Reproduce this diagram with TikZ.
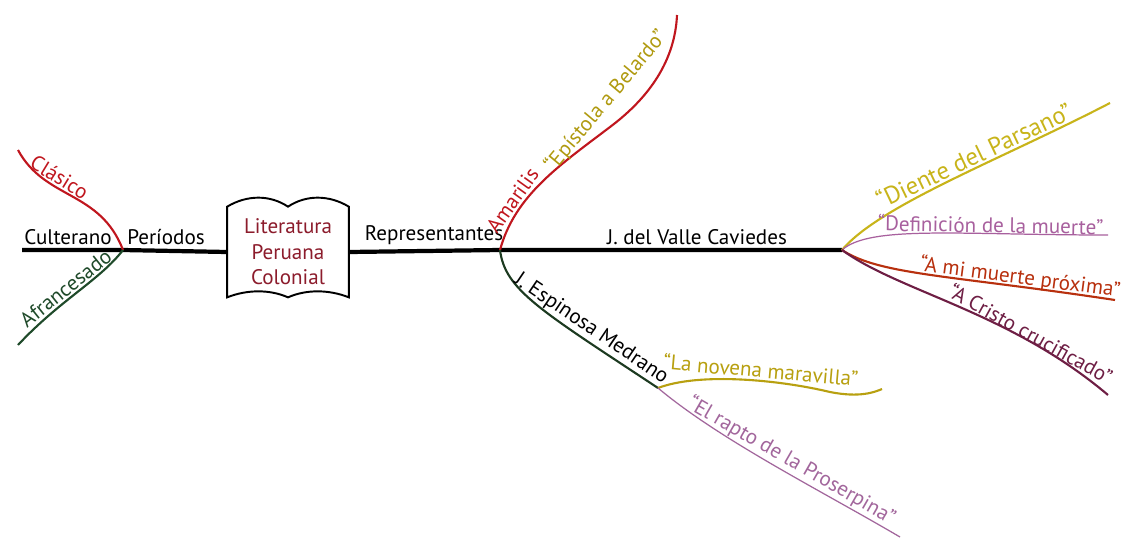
\documentclass[tikz,border=0pt]{standalone}
\usepackage{fontspec}
\setmainfont{PT Sans}
\usetikzlibrary{positioning}

\definecolor{clasred}{HTML}{C0161E}
\definecolor{afgreen}{HTML}{1F4A2A}
\definecolor{boxred}{HTML}{8C1C2C}
\definecolor{epigold}{HTML}{B09A10}
\definecolor{espgreen}{HTML}{1C3A20}
\definecolor{novgold}{HTML}{B8A010}
\definecolor{rappurple}{HTML}{A2669C}
\definecolor{diegold}{HTML}{C8B41A}
\definecolor{defpurple}{HTML}{A8609E}
\definecolor{proxred}{HTML}{B8300E}
\definecolor{crismaroon}{HTML}{6E1E44}

\begin{document}
\begin{tikzpicture}[x=0.02cm,y=-0.02cm,
  mainline/.style={line width=2.4pt,black},
  branch/.style={line width=1.2pt},
  twig/.style={line width=0.7pt},
  lbl/.style={font=\fontsize{12}{14}\selectfont,inner sep=1pt},
  biglbl/.style={font=\fontsize{14}{16}\selectfont,inner sep=1pt}]
\useasboundingbox[fill=white] (0,0) rectangle (1129,552);

\coordinate (lstart) at (22,250);
\coordinate (jp) at (123,250);
\coordinate (jr) at (500,250);
\coordinate (jv) at (842,250);
\coordinate (je) at (658,388);
\coordinate (clend) at (18,150);
\coordinate (afend) at (18,345);
\coordinate (amend) at (677,15);
\coordinate (novend) at (882,389);
\coordinate (rapend) at (900,537);
\coordinate (dieend) at (1110,103);
\coordinate (defend) at (1108,235);
\coordinate (proxend) at (1115,300);
\coordinate (crisend) at (1108,395);

\node[align=center,text=boxred,font=\fontsize{12}{14.5}\selectfont,
  minimum width=2.42cm,minimum height=1.8cm,inner sep=0pt] (lit) at (288,252)
  {Literatura\\Peruana\\Colonial};
\draw[line width=1.1pt] (lit.north west) .. controls +(20,-12) and +(-18,-12) .. (lit.north)
  .. controls +(18,-12) and +(-20,-12) .. (lit.north east) -- (lit.south east)
  .. controls +(-20,-8) and +(18,-8) .. (lit.south)
  .. controls +(-18,-8) and +(20,-8) .. (lit.south west) -- cycle;

\draw[mainline] (lstart) -- (jp) -- (lit.west);
\draw[mainline] (lit.east) -- (jr) -- (jv);

\node[lbl,anchor=south] (culterano) at (68,247) {Culterano};
\node[lbl,anchor=south] (periodos) at (166,247) {Períodos};
\node[lbl,anchor=south] (representantes) at (434,247) {Representantes};
\node[lbl,anchor=south] (caviedes) at (697,247) {J. del Valle Caviedes};

\draw[branch,clasred] (clend) .. controls (45,200) and (100,190) .. (jp)
  node[lbl,sloped,above,pos=0.35] (clasico) {Clásico};
\draw[branch,afgreen] (afend) .. controls (60,300) and (100,280) .. (jp)
  node[lbl,sloped,above,pos=0.45] (afrancesado) {Afrancesado};

\draw[branch,clasred] (jr) .. controls (515,195) and (560,165) .. (610,127)
  node[lbl,sloped,above,pos=0.3] (amarilis) {Amarilis}
  .. controls (650,97) and (675,60) .. (amend);
\node[lbl,text=epigold,rotate=50] (epistola) at (606,101) {“Epístola a Belardo”};

\draw[branch,espgreen] (jr) .. controls (505,290) and (540,310) .. (je)
  node[lbl,sloped,above,pos=0.75,text=black] (espinosa) {J. Espinosa Medrano};
\draw[branch,novgold] (je) .. controls (700,372) and (780,380) .. (830,392)
  node[lbl,sloped,above,pos=0.6] (novena) {“La novena maravilla”}
  .. controls (860,398) and (875,392) .. (novend);
\draw[twig,rappurple] (je) .. controls (720,440) and (820,490) .. (rapend)
  node[lbl,sloped,above,pos=0.55] (rapto) {“El rapto de la Proserpina”};

\draw[branch,diegold] (jv) .. controls (880,205) and (1000,160) .. (dieend)
  node[biglbl,sloped,above,pos=0.6] (diente) {“Diente del Parsano”};
\draw[twig,defpurple] (jv) .. controls (870,225) and (960,235) .. (defend)
  node[lbl,sloped,above=-1pt,pos=0.7] (definicion) {“Definición de la muerte”};
\draw[branch,proxred] (jv) .. controls (880,275) and (950,275) .. (proxend)
  node[lbl,sloped,above=-2.5pt,pos=0.78] (proxima) {“A mi muerte próxima”};
\draw[branch,crismaroon] (jv) .. controls (900,292) and (1010,312) .. (crisend)
  node[lbl,sloped,above=-2pt,pos=0.73] (cristo) {“A Cristo crucificado”};

\end{tikzpicture}
\end{document}
